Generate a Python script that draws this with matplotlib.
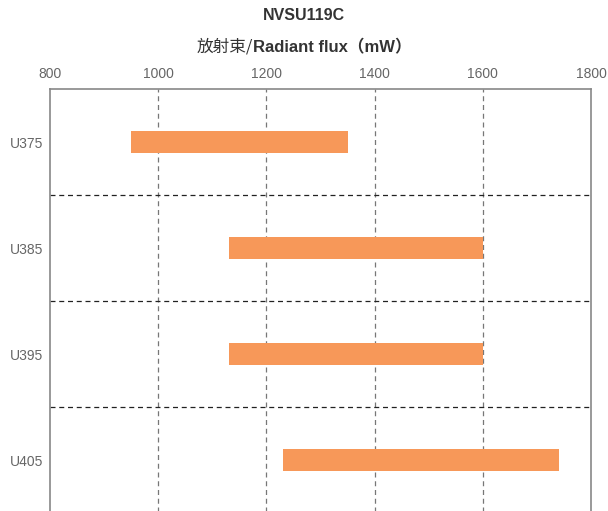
import numpy as np
import matplotlib as mpl
import matplotlib.pyplot as plt

mpl.rcParams['font.family'] = ['Liberation Sans', 'Noto Sans CJK SC', 'DejaVu Sans']

# data
models = ['U375', 'U385', 'U395', 'U405']
flux_min = [950, 1130, 1130, 1230]    # mW
flux_max = [1350, 1600, 1600, 1740]   # mW
x_ticks = [800, 1000, 1200, 1400, 1600, 1800]

bar_color = '#f79859'
grey = '#666666'


def main():
    fig = plt.figure(figsize=(6.08, 5.11), dpi=100)
    ax = fig.add_axes([50 / 608, -2 / 511, 541 / 608, 424 / 511])

    y = np.arange(len(models))
    lo = np.array(flux_min)
    hi = np.array(flux_max)
    ax.barh(y, hi - lo, left=lo, height=0.2, color=bar_color, zorder=3)

    ax.set_xlim(800, 1800)
    ax.set_ylim(len(models) - 0.5, -0.5)
    ax.set_xticks(x_ticks)
    ax.set_yticks(y)
    ax.set_yticklabels(models)
    ax.xaxis.tick_top()
    ax.tick_params(axis='both', length=0, labelsize=10, labelcolor=grey)
    ax.tick_params(axis='x', pad=5.5)
    ax.tick_params(axis='y', pad=5)

    # grid: vertical grey dashed, horizontal black dashed between rows
    for xv in x_ticks[1:-1]:
        ax.axvline(xv, color='#777777', linestyle=(0, (4, 3)), linewidth=0.9, zorder=1)
    for k in range(len(models) - 1):
        ax.axhline(k + 0.5, color='#222222', linestyle=(0, (4, 3)), linewidth=0.9, zorder=1)

    for side in ['left', 'right', 'top', 'bottom']:
        ax.spines[side].set_color('#888888')
        ax.spines[side].set_linewidth(1.2)

    fig.text(0.5, 1 - 15 / 511, 'NVSU119C', ha='center', va='center',
             fontsize=11.5, fontweight='bold', color='#333333')

    # subtitle: chinese part regular, english part bold
    fig.canvas.draw()
    r = fig.canvas.get_renderer()
    t1 = fig.text(0, 1 - 47 / 511, '放射束/', ha='left', va='center',
                  fontsize=12, color='#333333', family=['Noto Sans CJK SC'])
    t2 = fig.text(0, 1 - 47 / 511, 'Radiant flux（mW）', ha='left', va='center',
                  fontsize=12, fontweight='bold', color='#333333',
                  family=['Liberation Sans', 'Noto Sans CJK SC'])
    w1 = t1.get_window_extent(r).width / fig.bbox.width
    w2 = t2.get_window_extent(r).width / fig.bbox.width
    x0 = 0.5 - (w1 + w2) / 2
    t1.set_x(x0)
    t2.set_x(x0 + w1)

    fig.savefig('out.png', dpi=100)


if __name__ == '__main__':
    main()
